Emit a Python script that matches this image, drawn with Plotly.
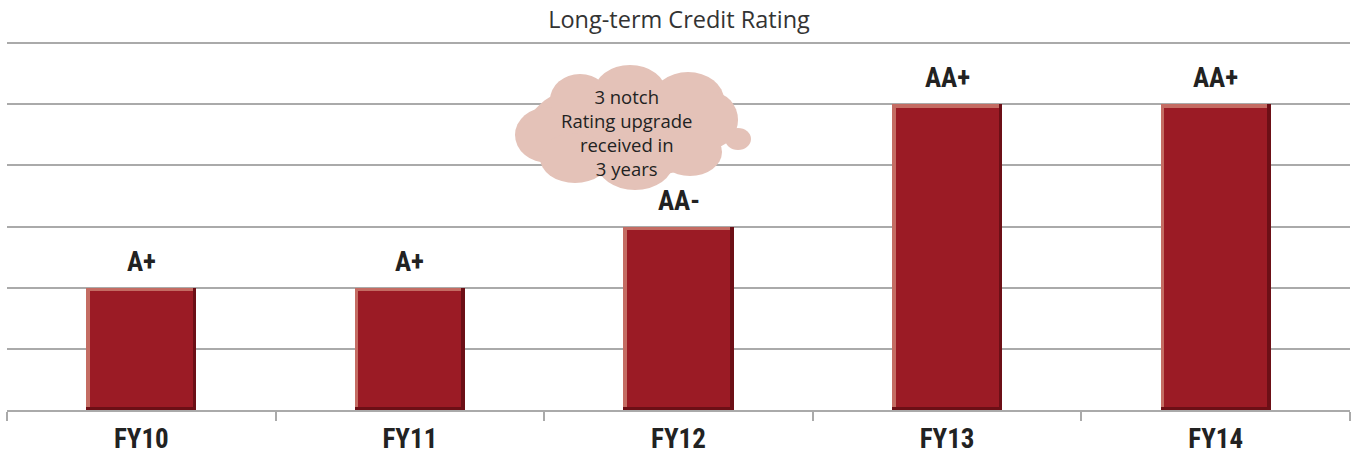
import plotly.graph_objects as go

categories = ["FY10", "FY11", "FY12", "FY13", "FY14"]
rating_level = [2, 2, 3, 5, 5]
rating_labels = ["A+", "A+", "AA-", "AA+", "AA+"]
title_text = "Long-term Credit Rating"
cloud_text = "3 notch<br>Rating upgrade<br>received in<br>3 years"

W, H = 1358, 455
ML, MR, MT, MB = 7, 8, 41, 45
PW, PH = W - ML - MR, H - MT - MB
YTOP_PX = 43          # pixel row of the top gridline (value 6)
BASE_PX = H - MB      # pixel row of the baseline
YMAX = 6 * PH / (BASE_PX - YTOP_PX)

def px(x):
    return (x - ML) / PW

def py(y):
    return (H - MB - y) / PH

# bevel sizes in data units
cat_w = PW / len(categories)
unit_h = PH / YMAX
bw = 0.41
bx = 3.5 / cat_w
by = 3.5 / unit_h

LABEL_FONT = "Roboto Condensed, Liberation Sans Narrow, sans-serif"
TEXT_FONT = "Open Sans, Lato, Liberation Sans, sans-serif"

fig = go.Figure()
# dark outer (right/bottom bevel)
fig.add_trace(go.Bar(
    x=categories, y=rating_level, width=bw, offset=-bw / 2,
    marker=dict(color="#6C0F16", line=dict(width=0)),
    hoverinfo="skip", showlegend=False,
))
# light (top/left bevel)
fig.add_trace(go.Bar(
    x=categories, y=[v - by for v in rating_level], base=by,
    width=bw - bx, offset=-bw / 2,
    marker=dict(color="#C46C63", line=dict(width=0)),
    hoverinfo="skip", showlegend=False,
))
# main face
fig.add_trace(go.Bar(
    x=categories, y=[v - 2 * by for v in rating_level], base=by,
    width=bw - 2 * bx, offset=-bw / 2 + bx,
    marker=dict(color="#9B1B25", line=dict(width=0)),
    hoverinfo="skip", showlegend=False,
))

# rating labels above bars
for cat, val, lab in zip(categories, rating_level, rating_labels):
    fig.add_annotation(x=cat, y=val, text=lab, showarrow=False,
                       xanchor="center", yanchor="bottom", yshift=8,
                       font=dict(family=LABEL_FONT, size=27, color="#222222", weight="bold"))

# cloud callout built from overlapping ellipses
cloud_fill = "#E4C2B8"
blobs = [
    (628, 128, 100, 50),
    (548, 135, 33, 28),
    (580, 100, 30, 26),
    (630, 92, 36, 27),
    (688, 100, 36, 28),
    (712, 120, 26, 28),
    (738, 139, 13, 11),
    (690, 152, 32, 24),
    (635, 163, 38, 27),
    (575, 158, 35, 25),
]
for cx, cy, rx, ry in blobs:
    fig.add_shape(type="circle", xref="paper", yref="paper",
                  x0=px(cx - rx), x1=px(cx + rx), y0=py(cy + ry), y1=py(cy - ry),
                  fillcolor=cloud_fill, line=dict(width=0), layer="above")

fig.add_annotation(xref="paper", yref="paper", x=px(626), y=py(132),
                   xanchor="center", yanchor="middle",
                   text=cloud_text, showarrow=False,
                   font=dict(family=TEXT_FONT, size=18.5, color="#222222"),
                   align="center")

fig.update_layout(
    width=W, height=H,
    margin=dict(l=ML, r=MR, t=MT, b=MB, autoexpand=False),
    paper_bgcolor="white", plot_bgcolor="white",
    barmode="overlay", bargap=0,
    title=dict(text=title_text, x=0.5, xanchor="center", y=1 - 20 / H, yanchor="middle",
               font=dict(family=TEXT_FONT, size=23.5, color="#333333")),
    xaxis=dict(
        automargin=False,
        showgrid=False, showline=True, linecolor="#AAAAAA", linewidth=1.5,
        ticks="outside", tickson="boundaries", ticklen=9, tickcolor="#AAAAAA", tickwidth=1.5,
        ticklabelstandoff=4,
        tickfont=dict(family=LABEL_FONT, size=27, color="#222222", weight="bold"),
    ),
    yaxis=dict(
        automargin=False,
        range=[0, YMAX], tickvals=[1, 2, 3, 4, 5, 6], showticklabels=False, showgrid=True,
        gridcolor="#AAAAAA", gridwidth=1.5, zeroline=False, showline=False,
    ),
)

fig.write_html("out.html", config={"displayModeBar": False},
               post_script="document.body.style.margin='0';")
